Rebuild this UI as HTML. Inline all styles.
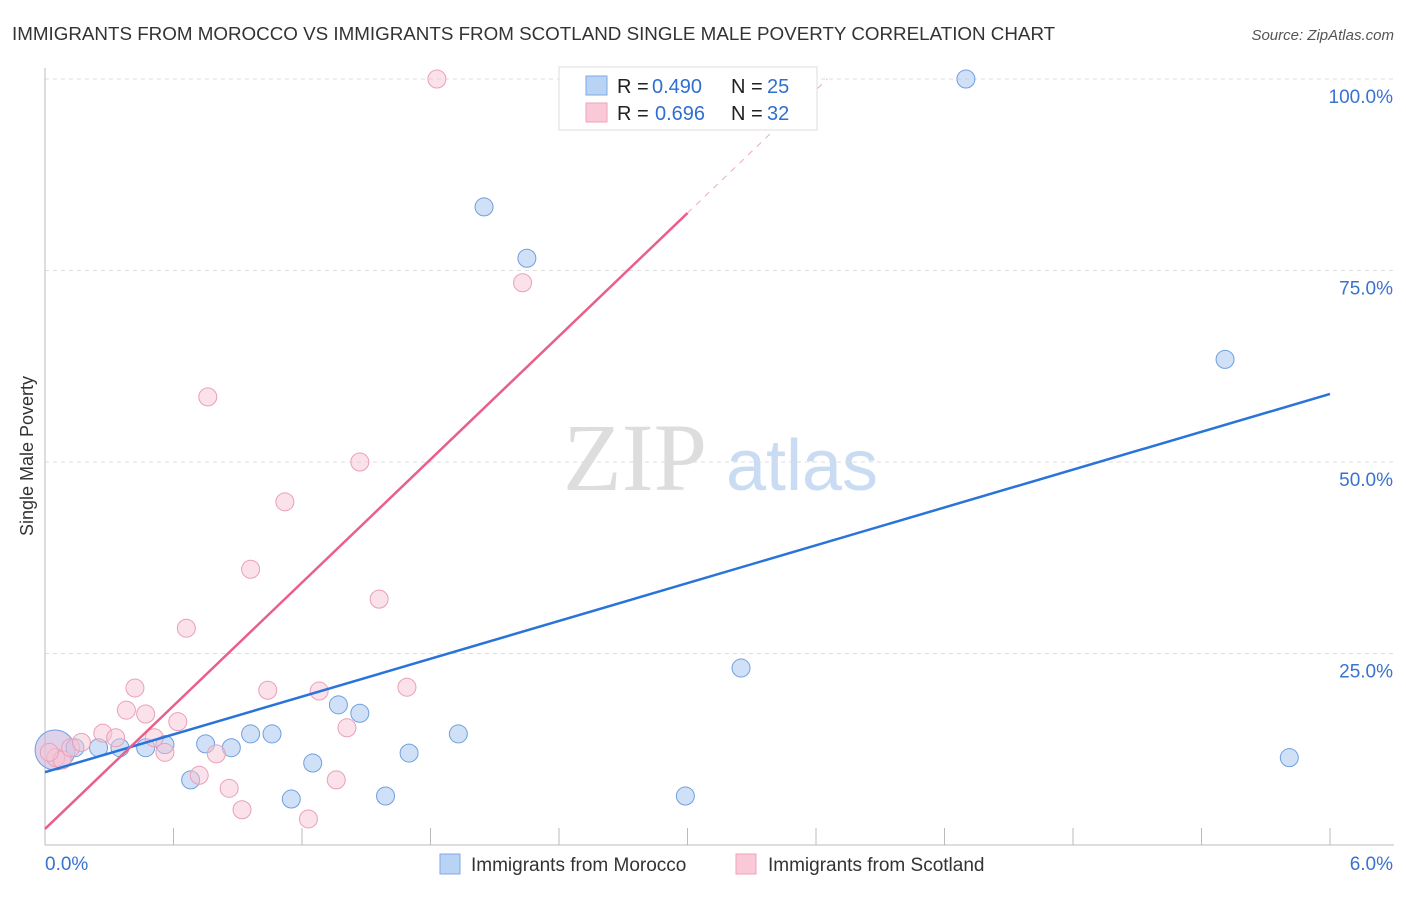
<!DOCTYPE html>
<html><head><meta charset="utf-8"><style>
body{margin:0;background:#fff;font-family:"Liberation Sans",sans-serif}
</style></head><body>
<svg id="c" width="1406" height="892" xmlns="http://www.w3.org/2000/svg">
<text x="12" y="40" font-size="18.8" fill="#333">IMMIGRANTS FROM MOROCCO VS IMMIGRANTS FROM SCOTLAND SINGLE MALE POVERTY CORRELATION CHART</text>
<text x="1394" y="40" font-size="15" fill="#555" font-style="italic" text-anchor="end">Source: ZipAtlas.com</text>
<text x="33" y="456" font-size="18" fill="#333" transform="rotate(-90 33 456)" text-anchor="middle">Single Male Poverty</text>
<text x="635" y="490" font-size="96" fill="#ddd" font-family="Liberation Serif,serif" text-anchor="middle">ZIP</text>
<text x="802" y="490" font-size="72" fill="#c9dcf3" text-anchor="middle">atlas</text>
<g id="grid"></g><g id="pts"></g><g id="lines"></g>
<g>
<rect x="559" y="67" width="258" height="63" fill="#fff" stroke="#ddd"/>
<rect x="586" y="76" width="21" height="19" fill="#b9d3f5" stroke="#7fa9e6"/>
<rect x="586" y="103" width="21" height="19" fill="#f9c9d7" stroke="#eea3ba"/>
<text x="617" y="93" font-size="20" fill="#222">R =</text><text x="652" y="93" font-size="20" fill="#2f6fd0">0.490</text>
<text x="731" y="93" font-size="20" fill="#222">N =</text><text x="767" y="93" font-size="20" fill="#2f6fd0">25</text>
<text x="617" y="120" font-size="20" fill="#222">R =</text><text x="655" y="120" font-size="20" fill="#2f6fd0">0.696</text>
<text x="731" y="120" font-size="20" fill="#222">N =</text><text x="767" y="120" font-size="20" fill="#2f6fd0">32</text>
</g>
<g>
<rect x="440" y="854" width="20" height="20" fill="#b9d3f5" stroke="#7fa9e6"/>
<text x="471" y="871" font-size="19" fill="#333">Immigrants from Morocco</text>
<rect x="736" y="854" width="20" height="20" fill="#f9c9d7" stroke="#eea3ba"/>
<text x="768" y="871" font-size="19" fill="#333">Immigrants from Scotland</text>
</g>
</svg>
<script>
const blueX=[0.047,0.14,0.25,0.35,0.47,0.56,0.68,0.75,0.87,0.96,1.06,1.15,1.25,1.37,1.47,1.59,1.70,1.93,2.05,2.25,2.99,3.25,4.30,5.51,5.81];
const blueY=[12.4,12.7,12.7,12.7,12.7,13.1,8.5,13.2,12.7,14.5,14.5,6.0,10.7,18.3,17.2,6.4,12.0,14.5,83.3,76.6,6.4,23.1,100,63.4,11.4];
const pinkX=[0.05,0.08,0.12,0.17,0.27,0.33,0.38,0.42,0.47,0.51,0.56,0.62,0.66,0.72,0.76,0.80,0.86,0.92,0.96,1.04,1.12,1.23,1.28,1.36,1.41,1.47,1.56,1.69,1.83,2.23,2.76,0.02];
const pinkY=[11.4,11.1,12.7,13.4,14.6,14.0,17.6,20.5,17.1,14.0,12.1,16.1,28.3,9.1,58.5,11.9,7.4,4.6,36.0,20.2,44.8,3.4,20.1,8.5,15.3,50.0,32.1,20.6,100,73.4,100,12.1];
const yTicks=[25,50,75,100];
const blueLine=[9.5,8.23];const pinkLine=[2.1,26.8];
const X=v=>45+v/6*1285, Y=v=>845-v/100*766;
const NS="http://www.w3.org/2000/svg";
function mk(t,a,p){const e=document.createElementNS(NS,t);for(const k in a)e.setAttribute(k,a[k]);p.appendChild(e);return e;}
const g=document.getElementById('grid');
yTicks.forEach(t=>{
 const l=mk('line',{x1:45,x2:1394,y1:Y(t),y2:Y(t),stroke:'#ddd','stroke-dasharray':'4,4'},g);
 
 
 const tx=mk('text',{x:1393,y:Y(t)+24,'font-size':19,fill:'#3a72d0','text-anchor':'end'},g);
 tx.textContent=t.toFixed(1)+'%';
 
 
});
const ax=mk('line',{x1:45,x2:45,y1:68,y2:845,stroke:'#bbb'},g);


const bx=mk('line',{x1:45,x2:1394,y1:845,y2:845,stroke:'#bbb'},g);


for(let i=1;i<=10;i++){const t=mk('line',{x1:X(i*0.6),x2:X(i*0.6),y1:828,y2:845,stroke:'#bbb'},g);
 
 }
[['0.0%',45,'start'],['6.0%',1393,'end']].forEach(([s,x,a])=>{const t=mk('text',{x:x,y:870,'font-size':19,fill:'#3a72d0','text-anchor':a},g);t.textContent=s;
 
 });
const p=document.getElementById('pts');
blueX.forEach((v,i)=>{const c=mk('circle',{cx:X(v),cy:Y(blueY[i]),r:i==0?20:9,fill:i==0?'rgba(200,180,220,0.6)':'rgba(170,200,240,0.55)',stroke:'#6f9fe0','stroke-width':1},p);
 
 });
pinkX.forEach((v,i)=>{const c=mk('circle',{cx:X(v),cy:Y(pinkY[i]),r:9,fill:'rgba(248,195,212,0.5)',stroke:'#eaa0b8','stroke-width':1},p);
 
 });
const L=document.getElementById('lines');
const bl=mk('line',{x1:X(0),y1:Y(blueLine[0]),x2:X(6),y2:Y(blueLine[0]+6*blueLine[1]),stroke:'#2a74d9','stroke-width':2.5},L);


const pe=(100-pinkLine[0])/pinkLine[1];
const pl=mk('line',{x1:X(0),y1:Y(pinkLine[0]),x2:X(3),y2:Y(pinkLine[0]+3*pinkLine[1]),stroke:'#e8608a','stroke-width':2.5},L);


const pd=mk('line',{x1:X(3),y1:Y(pinkLine[0]+3*pinkLine[1]),x2:X(pe),y2:Y(100),stroke:'#f0a8c0','stroke-width':1,'stroke-dasharray':'6,6'},L);


</script>
</body></html>
